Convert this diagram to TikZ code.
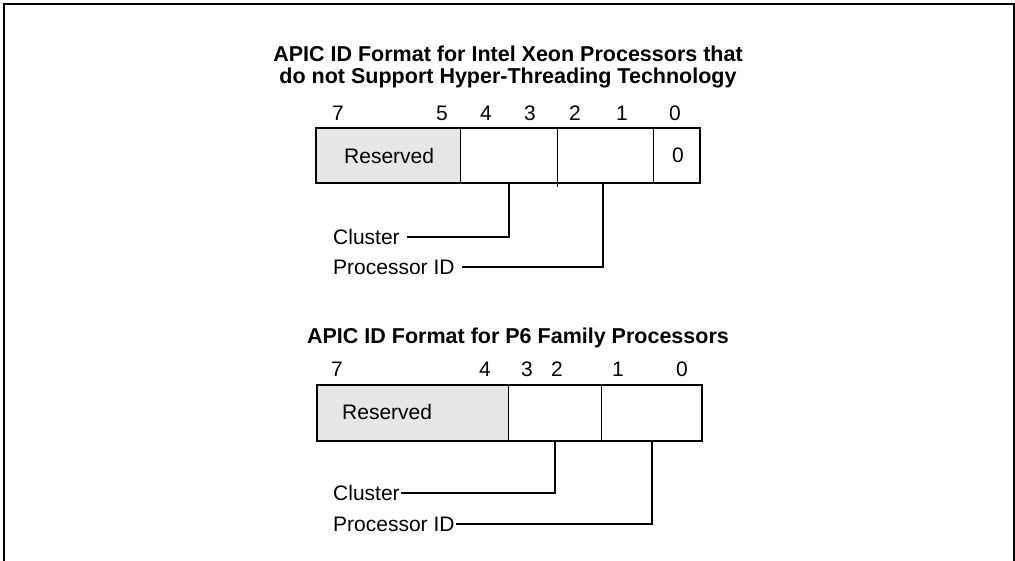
\documentclass[tikz,border=0pt]{standalone}
\usepackage{fontspec}
\setmainfont{Liberation Sans}
\definecolor{resgray}{HTML}{E6E6E6}
\tikzset{
  lbl/.style={inner sep=0pt, font=\fontsize{21}{23}\selectfont},
  ttl/.style={inner sep=0pt, align=center, font=\fontsize{21.5}{22.5}\selectfont\bfseries},
  cell/.style={draw, line width=0.8pt, inner sep=0pt, outer sep=0pt, minimum height=55pt, anchor=north west, font=\fontsize{21}{23}\selectfont},
  res/.style={cell, fill=resgray},
  frameline/.style={line width=2pt},
  boxline/.style={line width=2pt},
  conn/.style={line width=2pt}
}
\begin{document}
\begin{tikzpicture}[x=1pt,y=-1pt]
\useasboundingbox (0,0) rectangle (1015,560);
% outer frame (open at the bottom)
\draw[frameline] (4,562) -- (4,4) -- (1014,4) -- (1014,562);

% ---------- upper diagram ----------
\node[ttl] (t1) at (508,67) {APIC ID Format for Intel Xeon Processors that\\do not Support Hyper-Threading Technology};

\node[lbl] (a7) at (338,113) {7};
\node[lbl] (a5) at (442,113) {5};
\node[lbl] (a4) at (486,113) {4};
\node[lbl] (a3) at (530,113) {3};
\node[lbl] (a2) at (575,113) {2};
\node[lbl] (a1) at (622,113) {1};
\node[lbl] (a0) at (675,113) {0};

\node[res, minimum width=144pt] (ar) at (316,128) {};
\node[cell, minimum width=97pt] (ac1) at (460,128) {};
\node[cell, minimum width=96pt] (ac2) at (557,128) {};
\node[cell, minimum width=47pt] (ac3) at (653,128) {};
\node[lbl, anchor=west] (arl) at (344,155.5) {Reserved};
\node[lbl] (azero) at (678,155.5) {0};
\draw[boxline] (ar.north west) rectangle (ac3.south east);
\draw[line width=0.8pt] (ac2.south west) -- ++(0,4);

\node[lbl, anchor=west] (acl) at (333,237) {Cluster};
\node[lbl, anchor=west] (apid) at (333,267) {Processor ID};
\draw[conn] (ac1.south) |- ([xshift=7pt]acl.east);
\coordinate (ap) at ([xshift=-2pt]ac2.south);
\draw[conn] (ap) |- ([xshift=7pt]apid.east);

% ---------- lower diagram ----------
\node[ttl] (t2) at (518,338) {APIC ID Format for P6 Family Processors};

\node[lbl] (b7) at (337,369) {7};
\node[lbl] (b4) at (485,369) {4};
\node[lbl] (b3) at (527,369) {3};
\node[lbl] (b2) at (557,369) {2};
\node[lbl] (b1) at (618,369) {1};
\node[lbl] (b0) at (682,369) {0};

\node[res, minimum width=191pt, minimum height=56pt] (br) at (317,385) {};
\node[cell, minimum width=93pt, minimum height=56pt] (bc1) at (508,385) {};
\node[cell, minimum width=101pt, minimum height=56pt] (bc2) at (601,385) {};
\node[lbl, anchor=west] (brl) at (342,412) {Reserved};
\draw[boxline] (br.north west) rectangle (bc2.south east);

\node[lbl, anchor=west] (bcl) at (333,493) {Cluster};
\node[lbl, anchor=west] (bpid) at (333,524) {Processor ID};
\draw[conn] (bc1.south) |- ([xshift=1pt]bcl.east);
\draw[conn] (bc2.south) |- ([xshift=1pt]bpid.east);
\end{tikzpicture}
\end{document}
